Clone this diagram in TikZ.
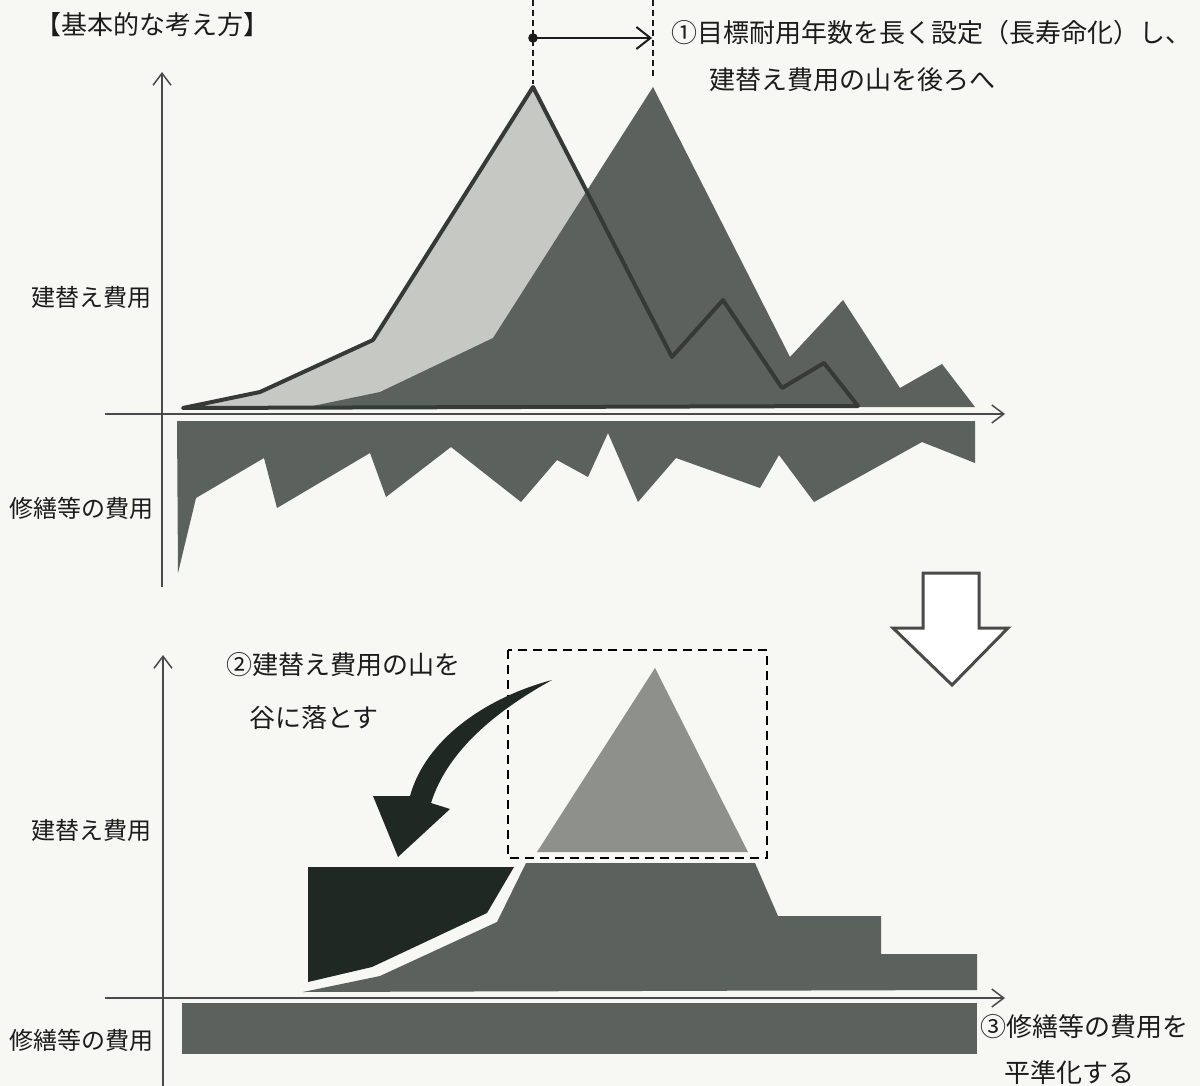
\documentclass[tikz,border=0pt]{standalone}
\usepackage{fontspec}
\newfontfamily\jp{Noto Sans CJK JP}
\usetikzlibrary{arrows.meta}
\definecolor{bgc}{HTML}{F7F7F4}
\definecolor{darkf}{HTML}{5B615C}
\definecolor{lightf}{HTML}{C6C8C4}
\definecolor{outl}{HTML}{363A37}
\definecolor{midf}{HTML}{8E908C}
\definecolor{blkf}{HTML}{1F2823}
\definecolor{axc}{HTML}{4A4A4A}
\definecolor{txt}{HTML}{1C1C1C}
\begin{document}
\begin{tikzpicture}[x=0.5pt,y=-0.5pt,
  lbl/.style={font=\jp\fontsize{12pt}{14pt}\selectfont, text=txt, anchor=west, inner sep=0pt},
  ann/.style={font=\jp\fontsize{13pt}{15pt}\selectfont, text=txt, anchor=west, inner sep=0pt},
  axis/.style={draw=axc, line width=0.75pt, -{Straight Barb[length=6pt,width=9pt,line width=0.75pt]}},
  guide/.style={draw=txt, line width=1.1pt, dash pattern=on 3pt off 2pt},
]
\fill[bgc] (0,0) rectangle (1200,1086);
\useasboundingbox (0,0) rectangle (1200,1086);

% ---------- texts ----------
\node[ann] (title) at (35,25) {【基本的な考え方】};
\node[ann] (ann1a) at (671,33) {①目標耐用年数を長く設定（長寿命化）し、};
\node[ann] (ann1b) at (709,80) {建替え費用の山を後ろへ};
\node[lbl] (lblA1) at (31,297) {建替え費用};
\node[lbl] (lblB1) at (9,508) {修繕等の費用};
\node[ann] (ann2a) at (226,665) {②建替え費用の山を};
\node[ann] (ann2b) at (249,718) {谷に落とす};
\node[lbl] (lblA2) at (31,830) {建替え費用};
\node[lbl] (lblB2) at (9,1040) {修繕等の費用};
\node[ann] (ann3a) at (980,1027) {③修繕等の費用を};
\node[ann] (ann3b) at (1004,1073) {平準化する};

% ---------- top chart ----------
% old mountain (light fill)
\fill[lightf] (183,408) -- (260,392) -- (373,340) -- (533,87) -- (672,357) -- (723,300)
  -- (782,388) -- (824,363) -- (858,406) -- cycle;
% new mountain (dark)
\fill[darkf] (303,408) -- (380,392) -- (493,338) -- (653,87) -- (790,357) -- (843,300)
  -- (900,388) -- (942,364) -- (975,407) -- cycle;
% old outline
\draw[outl, line width=2pt, line join=round] (183,408) -- (260,392) -- (373,340) -- (533,87)
  -- (672,357) -- (723,300) -- (782,388) -- (824,363) -- (858,406) -- cycle;
% repair costs
\fill[darkf] (177,421) -- (975,421) -- (975,463) -- (922,442) -- (814,502) -- (779,455)
  -- (760,488) -- (676,458) -- (638,502) -- (608,433) -- (588,477) -- (557,460)
  -- (521,502) -- (451,447) -- (386,497) -- (370,453) -- (277,508) -- (264,458)
  -- (196,498) -- (178,573) -- cycle;
% axes
\coordinate (ay0) at (162,587);
\coordinate (ay1) at (162,72);
\coordinate (ax0) at (105,414);
\coordinate (ax1) at (1005,414);
\draw[axis] (ay0) -- (ay1);
\draw[axis] (ax0) -- (ax1);
% shift guides
\coordinate (g1a) at (533,0);
\coordinate (g1b) at (533,84);
\coordinate (g2a) at (653,0);
\coordinate (g2b) at (653,78);
\draw[guide] (g1a) -- (g1b);
\draw[guide] (g2a) -- (g2b);
\coordinate (sh0) at (533,38);
\coordinate (sh1) at (652,38);
\fill[txt] (sh0) circle (2.4pt);
\draw[txt, line width=1pt, -{Straight Barb[length=7pt,width=11pt,line width=1pt]}] (sh0) -- (sh1);

% ---------- down block arrow ----------
\draw[draw=axc, fill=white, line width=1.5pt, line join=miter]
  (923,573) -- (979,573) -- (979,628) -- (1008,628) -- (952,685) -- (893,628) -- (923,628) -- cycle;

% ---------- bottom chart ----------
\fill[midf] (655,668) -- (537,852) -- (748,852) -- cycle;
\fill[darkf] (303,992) -- (380,976) -- (497,922) -- (526,863) -- (755,863) -- (778,916)
  -- (881,916) -- (881,954) -- (977,954) -- (977,990) -- cycle;
\fill[blkf] (308,867) -- (514,867) -- (487,913) -- (372,967) -- (308,982) -- cycle;
\draw[black, line width=1.3pt, dash pattern=on 4.5pt off 3pt] (508,650) rectangle (767,858);
\fill[darkf] (182,1003) rectangle (977,1054);
% curved arrow
\fill[blkf] (552,680) .. controls (488,697) and (426,738) .. (410,796) -- (373,796)
  -- (398,857) -- (450,809) -- (431,803) .. controls (447,752) and (494,712) .. (552,680) -- cycle;
% axes
\coordinate (by0) at (163,1086);
\coordinate (by1) at (163,655);
\coordinate (bx0) at (105,998);
\coordinate (bx1) at (1005,998);
\draw[axis] (by0) -- (by1);
\draw[axis] (bx0) -- (bx1);
\end{tikzpicture}
\end{document}
